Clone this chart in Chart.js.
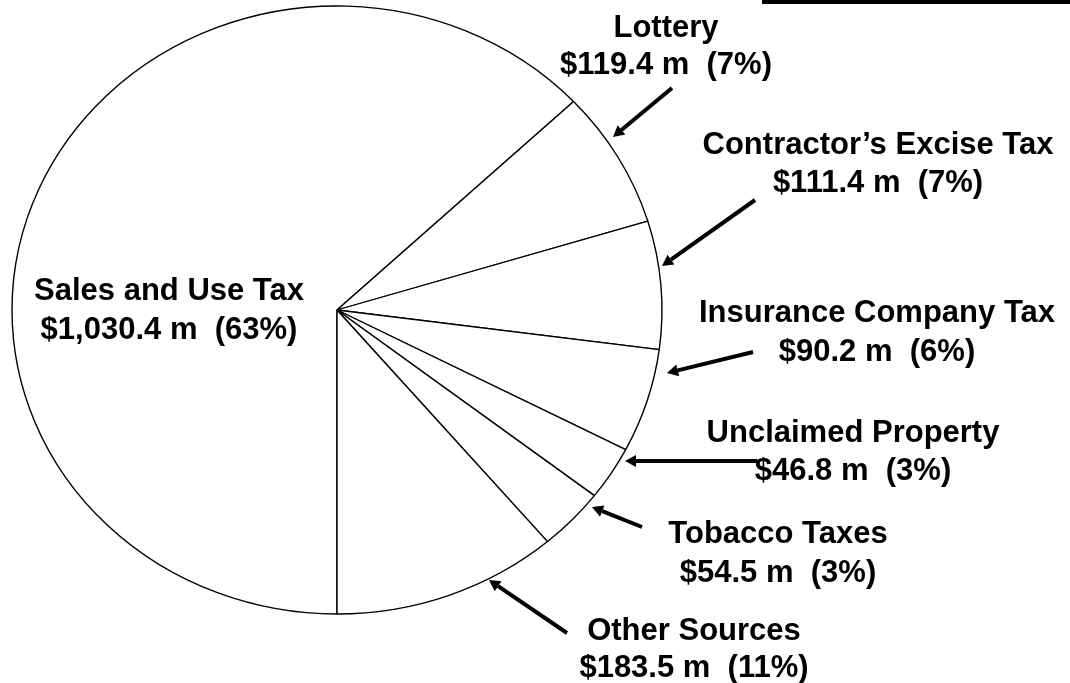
<!DOCTYPE html>
<html>
<head>
<meta charset="utf-8">
<script src="https://cdn.jsdelivr.net/npm/chart.js@4/dist/chart.umd.min.js"></script>
<style>
    html, body { margin: 0; padding: 0; background: #fff; }
    #contenedor { width: 1070px; height: 683px; position: relative; }
</style>
</head>
<body>
<div id="contenedor"><canvas id="chart-pie"></canvas></div>
<script>
// Fuentes de ingreso (millones de dólares), en el orden del gráfico
const fuentes = ['Sales and Use Tax', 'Lottery', 'Contractor\u2019s Excise Tax', 'Insurance Company Tax',
    'Unclaimed Property', 'Tobacco Taxes', 'Other Sources'];
const montos = [1030.4, 119.4, 111.4, 90.2, 46.8, 54.5, 183.5];
const montosTexto = ['$1,030.4 m', '$119.4 m', '$111.4 m', '$90.2 m', '$46.8 m', '$54.5 m', '$183.5 m'];
const porcentajes = ['63%', '7%', '7%', '6%', '3%', '3%', '11%'];

// posición de cada etiqueta (centro x, línea base de la primera línea, salto de línea)
const etiquetas = [
    { x: 169, y: 300, salto: 39 },
    { x: 666, y: 37, salto: 37 },
    { x: 878, y: 154, salto: 38 },
    { x: 877, y: 322, salto: 39 },
    { x: 853, y: 442, salto: 38 },
    { x: 778, y: 543, salto: 39 },
    { x: 694, y: 640, salto: 37 }
];

// flechas: desde [x1, y1] hasta la punta [x2, y2]
const flechas = [
    null,
    [672, 88, 613, 137],
    [755, 200, 662, 266],
    [753, 352, 667, 373],
    [757, 461, 625, 461],
    [642, 527, 592, 507],
    [567, 633, 489, 580]
];

const escalaX = 325 / 304;

const elipse = {
    id: 'elipse',
    beforeDatasetsDraw: function (chart) {
        let arco = chart.getDatasetMeta(0).data[0];
        let ctx = chart.ctx;
        ctx.save();
        ctx.translate(arco.x, arco.y);
        ctx.scale(escalaX, 1);
        ctx.translate(-arco.x, -arco.y);
    },
    afterDatasetsDraw: function (chart) {
        chart.ctx.restore();
    }
};

function dibujarFlecha(ctx, f) {
    let x1 = f[0], y1 = f[1], x2 = f[2], y2 = f[3];
    let ang = Math.atan2(y2 - y1, x2 - x1);
    let largo = 11, ancho = 6;
    let bx = x2 - largo * Math.cos(ang);
    let by = y2 - largo * Math.sin(ang);
    ctx.beginPath();
    ctx.moveTo(x1, y1);
    ctx.lineTo(bx, by);
    ctx.lineWidth = 4;
    ctx.strokeStyle = '#000';
    ctx.stroke();
    ctx.beginPath();
    ctx.moveTo(x2, y2);
    ctx.lineTo(bx + ancho * Math.sin(ang), by - ancho * Math.cos(ang));
    ctx.lineTo(bx - ancho * Math.sin(ang), by + ancho * Math.cos(ang));
    ctx.closePath();
    ctx.fillStyle = '#000';
    ctx.fill();
}

const rotulos = {
    id: 'rotulos',
    afterDraw: function (chart) {
        let ctx = chart.ctx;
        ctx.save();
        ctx.fillStyle = '#000';
        ctx.fillRect(762, 0, 308, 4);
        ctx.font = 'bold 31px "Liberation Sans", Arial, sans-serif';
        ctx.textAlign = 'center';
        ctx.textBaseline = 'alphabetic';
        fuentes.forEach(function (nombre, i) {
            let e = etiquetas[i];
            ctx.fillStyle = '#000';
            ctx.fillText(nombre, e.x, e.y);
            ctx.fillText(montosTexto[i] + '  (' + porcentajes[i] + ')', e.x, e.y + e.salto);
            if (flechas[i]) {
                dibujarFlecha(ctx, flechas[i]);
            }
        });
        ctx.restore();
    }
};

new Chart(document.getElementById('chart-pie').getContext('2d'), {
    type: 'pie',
    data: {
        labels: fuentes,
        datasets: [{
            label: 'Ingresos',
            data: montos,
            backgroundColor: '#ffffff',
            borderColor: '#000000',
            borderWidth: 1.3
        }]
    },
    options: {
        responsive: true,
        maintainAspectRatio: false,
        animation: false,
        rotation: 180,
        radius: 304,
        layout: {
            padding: { left: 0, right: 396, top: 0, bottom: 63 }
        },
        plugins: {
            legend: { display: false },
            tooltip: { enabled: false },
            title: { display: false }
        }
    },
    plugins: [elipse, rotulos]
});
</script>
</body>
</html>
